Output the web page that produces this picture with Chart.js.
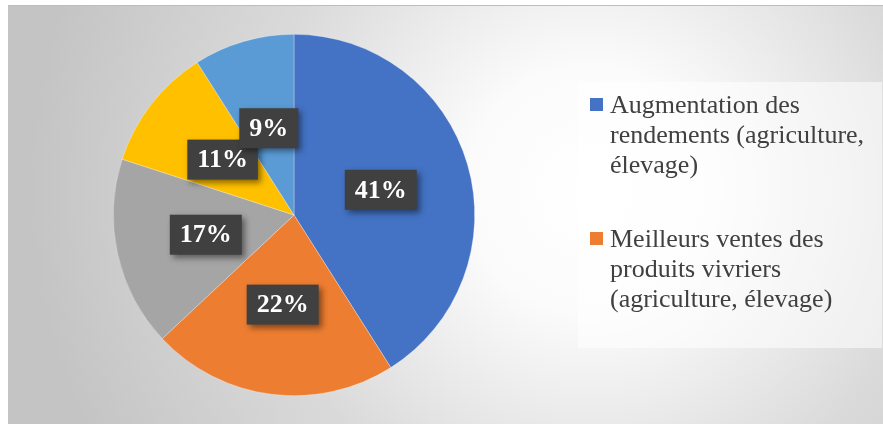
<!DOCTYPE html>
<html>
<head>
<meta charset="utf-8">
<script src="https://cdn.jsdelivr.net/npm/chart.js@4.4.1/dist/chart.umd.min.js"></script>
<style>
  html, body { margin: 0; padding: 0; background: #fff; }
  #wrap { width: 883px; height: 424px; position: relative; }
</style>
</head>
<body>
<div id="wrap"><canvas id="pie"></canvas></div>
<script>
(function () {
    'use strict';

    /* ── Data ── */
    // only the first two category names are visible in the (clipped) legend
    var categories = [
        'Augmentation des rendements (agriculture, élevage)',
        'Meilleurs ventes des produits vivriers (agriculture, élevage)',
        '',
        '',
        ''
    ];
    var shares = [41, 22, 17, 11, 9];
    var legendLines = [
        ['Augmentation des', 'rendements (agriculture,', 'élevage)'],
        ['Meilleurs ventes des', 'produits vivriers', '(agriculture, élevage)']
    ];
    var colours = ['#4472C4', '#ED7D31', '#A5A5A5', '#FFC000', '#5B9BD5'];

    var serif = '"Liberation Serif", "Times New Roman", serif';

    /* ── Background + frame ── */
    var backdrop = {
        id: 'backdrop',
        beforeDraw: function (chart) {
            var ctx = chart.ctx;
            ctx.save();
            ctx.fillStyle = '#ffffff';
            ctx.fillRect(0, 0, chart.width, chart.height);
            var g = ctx.createRadialGradient(590, 190, 0, 590, 190, 560);
            g.addColorStop(0, '#ffffff');
            g.addColorStop(0.22, '#fbfbfb');
            g.addColorStop(0.6, '#dadada');
            g.addColorStop(1, '#c4c4c4');
            ctx.fillStyle = g;
            ctx.fillRect(8, 5, chart.width - 8, chart.height - 5);
            ctx.fillStyle = '#bdbdbd';
            ctx.fillRect(8, 5, chart.width - 8, 1);
            ctx.restore();
        }
    };

    /* ── Percentage boxes ── */
    var valueBoxes = {
        id: 'valueBoxes',
        afterDatasetsDraw: function (chart) {
            var ctx = chart.ctx;
            var meta = chart.getDatasetMeta(0);
            ctx.save();
            ctx.font = 'bold 26px ' + serif;
            ctx.textAlign = 'center';
            ctx.textBaseline = 'middle';
            meta.data.forEach(function (arc, i) {
                var p = arc.getCenterPoint();
                var txt = shares[i] + '%';
                var w = ctx.measureText(txt).width + 20;
                var h = 40;
                ctx.shadowColor = 'rgba(0,0,0,0.45)';
                ctx.shadowBlur = 6;
                ctx.shadowOffsetX = 3;
                ctx.shadowOffsetY = 3;
                ctx.fillStyle = '#404040';
                ctx.fillRect(p.x - w / 2, p.y - h / 2, w, h);
                ctx.shadowColor = 'transparent';
                ctx.fillStyle = '#ffffff';
                ctx.fillText(txt, p.x, p.y + 1);
            });
            ctx.restore();
        }
    };

    /* ── Legend panel ── */
    var legendPanel = {
        id: 'legendPanel',
        afterDraw: function (chart) {
            var ctx = chart.ctx;
            ctx.save();
            ctx.fillStyle = 'rgba(255,255,255,0.55)';
            ctx.fillRect(578, 82, 304, 266);
            ctx.font = '26px ' + serif;
            ctx.textBaseline = 'alphabetic';
            ctx.textAlign = 'left';
            var tops = [113, 247];
            legendLines.forEach(function (lines, i) {
                ctx.fillStyle = colours[i];
                ctx.fillRect(590, tops[i] - 15, 13, 13);
                ctx.fillStyle = '#404040';
                lines.forEach(function (line, j) {
                    ctx.fillText(line, 610, tops[i] + j * 30);
                });
            });
            ctx.restore();
        }
    };

    function draw() {
        new Chart(document.getElementById('pie'), {
            type: 'pie',
            data: {
                labels: categories,
                datasets: [{
                    data: shares,
                    backgroundColor: colours,
                    borderWidth: 0.6,
                    borderColor: 'rgba(255,255,255,0.5)'
                }]
            },
            options: {
                responsive: true,
                maintainAspectRatio: false,
                animation: false,
                layout: {
                    padding: { left: 113, right: 408, top: 34, bottom: 28 }
                },
                plugins: {
                    legend: { display: false },
                    tooltip: { enabled: false }
                }
            },
            plugins: [backdrop, valueBoxes, legendPanel]
        });
    }

    Promise.all([
        document.fonts.load('26px "Liberation Serif"'),
        document.fonts.load('bold 26px "Liberation Serif"')
    ]).then(draw, draw);
})();
</script>
</body>
</html>
